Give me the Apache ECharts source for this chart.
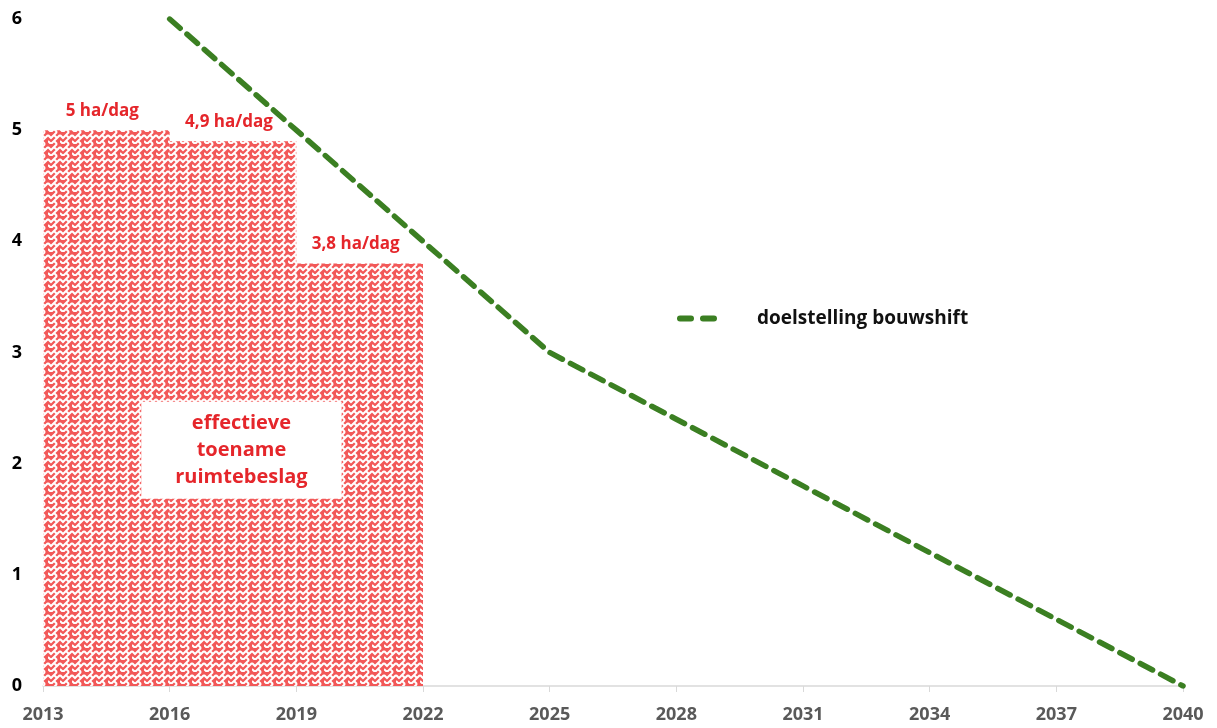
<!DOCTYPE html>
<html>
<head>
<meta charset="utf-8">
<script src="https://cdn.jsdelivr.net/npm/echarts@6/dist/echarts.min.js"></script>
<style>
  html, body { margin: 0; padding: 0; background: #ffffff; }
  #chart { width: 1217px; height: 728px; }
</style>
</head>
<body>
<div id="chart"></div>
<script>
// effective increase: [from year, to year, ha/dag]
const periodStart = [2013, 2016, 2019]
const periodEnd = [2016, 2019, 2022]
const periodValue = [5, 4.9, 3.8]
const periodLabels = ['5 ha/dag', '4,9 ha/dag', '3,8 ha/dag']

// target line
const targetYears = [2016, 2019, 2022, 2025, 2028, 2031, 2034, 2037, 2040]
const targetValues = [6, 5, 4, 3, 2.4, 1.8, 1.2, 0.6, 0]

const areaNote = 'effectieve\ntoename\nruimtebeslag'
const notePos = [2017.7, 2.12]

const FONT = '"Open Sans", "Noto Sans", sans-serif'
const RED = '#e5262b'
const GREEN = '#3b7f22'

function makePattern() {
  const c = document.createElement('canvas')
  c.width = 12
  c.height = 12
  const ctx = c.getContext('2d')
  ctx.fillStyle = '#f25858'
  ctx.fillRect(0, 0, 12, 12)
  ctx.strokeStyle = '#ffffff'
  ctx.lineWidth = 2
  ctx.beginPath()
  // chevron weave
  ctx.moveTo(0, 3); ctx.lineTo(3, 6); ctx.lineTo(9, 0)
  ctx.moveTo(6, 9); ctx.lineTo(9, 12)
  ctx.moveTo(0, 9); ctx.lineTo(3, 12)
  ctx.moveTo(6, 3); ctx.lineTo(9, 6); ctx.lineTo(12, 3)
  ctx.moveTo(3, 12); ctx.lineTo(9, 6)
  ctx.stroke()
  return c
}

const pattern = { image: makePattern(), repeat: 'repeat' }

const periodData = periodStart.map((s, i) => [s, periodEnd[i], periodValue[i]])

const chart = echarts.init(document.getElementById('chart'))

chart.setOption({
  backgroundColor: '#ffffff',
  animation: false,
  grid: { left: 43, right: 34, top: 19, bottom: 42, containLabel: false },
  legend: {
    data: [{
      name: 'doelstelling bouwshift',
      icon: 'path://M3,0h11a3,3 0 0 1 0,6h-11a3,3 0 0 1 0,-6z M26,0h11a3,3 0 0 1 0,6h-11a3,3 0 0 1 0,-6z'
    }],
    left: 672,
    top: 304,
    itemWidth: 40,
    itemHeight: 6,
    itemStyle: { color: GREEN },
    textStyle: {
      color: '#111111',
      fontFamily: FONT,
      fontWeight: 'bold',
      fontSize: 19,
      padding: [0, 0, 0, 35]
    }
  },
  xAxis: {
    type: 'value',
    min: 2013,
    max: 2040,
    interval: 3,
    axisLine: { lineStyle: { color: '#d9d9d9', width: 1.5 } },
    axisTick: { show: true, length: 6, lineStyle: { color: '#d9d9d9' } },
    splitLine: { show: false },
    axisLabel: {
      formatter: v => String(v),
      color: '#595959',
      fontFamily: FONT,
      fontWeight: 'bold',
      fontSize: 18,
      margin: 20
    }
  },
  yAxis: {
    type: 'value',
    min: 0,
    max: 6,
    interval: 1,
    axisLine: { show: false },
    axisTick: { show: false },
    splitLine: { show: false },
    axisLabel: {
      color: '#000000',
      fontFamily: FONT,
      fontWeight: 'bold',
      fontSize: 18,
      margin: 21
    }
  },
  series: [
    {
      name: 'effectieve toename',
      type: 'custom',
      data: periodData,
      z: 1,
      renderItem: (params, api) => {
        const p0 = api.coord([api.value(0), api.value(2)])
        const p1 = api.coord([api.value(1), 0])
        const label = periodLabels[params.dataIndex]
        return {
          type: 'group',
          children: [
            {
              type: 'rect',
              shape: { x: p0[0], y: p0[1], width: p1[0] - p0[0], height: p1[1] - p0[1] },
              style: { fill: pattern }
            },
            {
              type: 'text',
              z2: 10,
              x: (p0[0] + p1[0]) / 2 - 4,
              y: p0[1] - 19,
              style: {
                text: label,
                align: 'center',
                verticalAlign: 'middle',
                fill: RED,
                font: 'bold 17px ' + FONT,
                backgroundColor: '#ffffff',
                padding: [4, 6]
              }
            }
          ]
        }
      }
    },
    {
      name: 'note',
      type: 'scatter',
      data: [notePos],
      symbolSize: 0,
      z: 5,
      silent: true,
      itemStyle: { opacity: 1 },
      label: {
        show: true,
        position: 'inside',
        formatter: areaNote,
        color: RED,
        fontFamily: FONT,
        fontWeight: 'bold',
        fontSize: 20,
        lineHeight: 27,
        align: 'center',
        backgroundColor: '#ffffff',
        padding: [8, 34, 8, 34]
      }
    },
    {
      name: 'doelstelling bouwshift',
      type: 'line',
      data: targetYears.map((y, i) => [y, targetValues[i]]),
      symbol: 'none',
      z: 3,
      lineStyle: {
        color: GREEN,
        width: 5.5,
        type: [14, 9],
        cap: 'round'
      },
      itemStyle: { color: GREEN }
    }
  ]
})
</script>
</body>
</html>
